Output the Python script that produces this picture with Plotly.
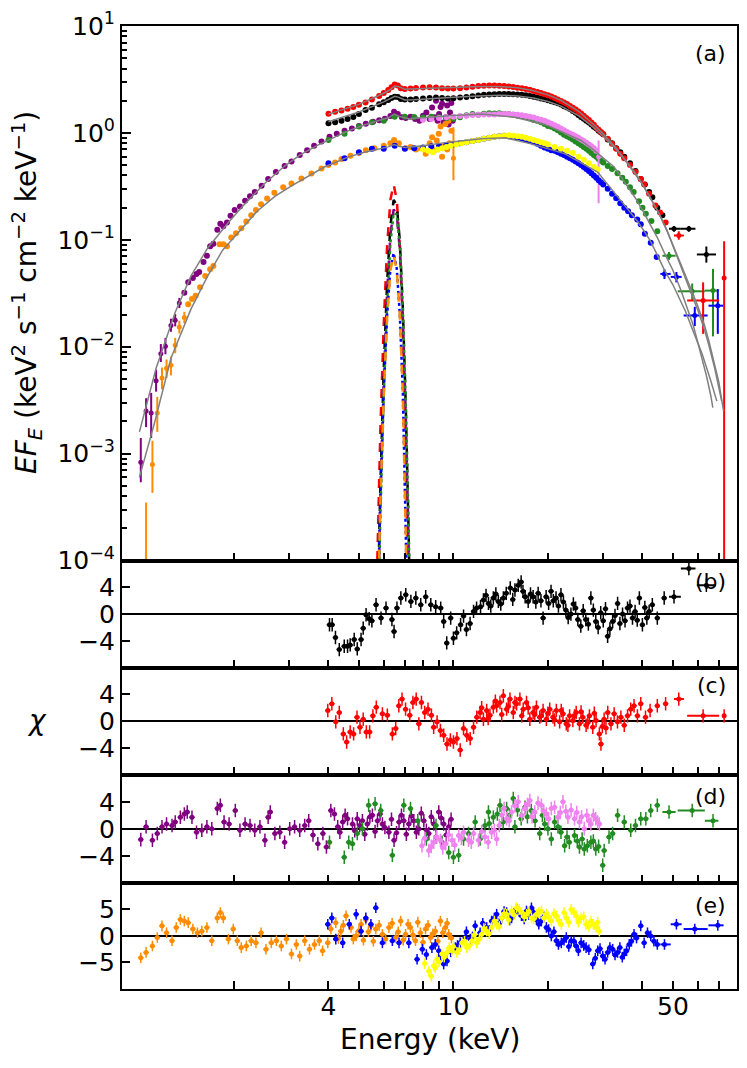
import numpy as np
import plotly.graph_objects as go

# ---------------- spectrum, panel (a) ----------------
# energies in keV, flux in keV^2 s^-1 cm^-2 keV^-1

# black data
BLACK_E = [4.0, 4.2, 4.4, 4.6, 4.8, 5.0, 5.25, 5.5, 5.8, 6.0, 6.2, 6.35, 6.5, 6.65, 6.8, 7.0, 7.3, 7.6, 8.0, 8.4,
           8.8, 9.2, 9.6, 10.0, 10.5, 11.0, 11.5, 12.0, 12.5, 13.0, 13.5, 14.0, 14.5, 15.0, 15.5, 16.0, 16.5, 17.0, 17.5, 18.0,
           18.5, 19.0, 19.5, 20.0, 20.5, 21.0, 21.5, 22.0, 22.5, 23.0, 23.5, 24.0, 24.5, 25.0, 25.5, 26.0, 26.5, 27.0, 27.5, 28.0,
           28.5, 29.0, 29.5, 30.0, 31.0, 32.0, 33.0, 34.0, 35.0, 36.5, 38.0, 39.5, 40.7, 42.0, 43.0, 44.6, 46.3]
BLACK_F = [1.23, 1.26, 1.3, 1.35, 1.41, 1.5, 1.64, 1.72, 1.85, 1.94, 2.03, 2.12, 2.18, 2.17, 2.08, 2.05, 2.05, 2.08, 2.1, 2.12,
           2.14, 2.12, 2.1, 2.11, 2.14, 2.17, 2.2, 2.24, 2.27, 2.29, 2.3, 2.31, 2.31, 2.31, 2.3, 2.29, 2.27, 2.25, 2.22, 2.18,
           2.14, 2.1, 2.06, 2.02, 1.98, 1.94, 1.89, 1.84, 1.78, 1.73, 1.67, 1.6, 1.54, 1.47, 1.41, 1.36, 1.3, 1.25, 1.2, 1.14,
           1.1, 1.05, 1.01, 0.97, 0.87, 0.8, 0.72, 0.66, 0.6, 0.52, 0.44, 0.37, 0.33, 0.28, 0.25, 0.2, 0.17]
BLACK_HI_E = [50.4, 56.2, 63.9]
BLACK_HI_F = [0.127, 0.127, 0.073]
BLACK_HI_XM = [1.8, 3.2, 4.3]
BLACK_HI_XP = [2.6, 2.8, 4.7]
BLACK_HI_YP = [0.008, 0.008, 0.0136]
BLACK_HI_YM = [0.008, 0.008, 0.0118]

# red data
RED_E = [4.0, 4.2, 4.4, 4.6, 4.8, 5.0, 5.25, 5.5, 5.8, 6.0, 6.2, 6.35, 6.5, 6.65, 6.8, 7.0, 7.3, 7.6, 8.0, 8.4,
         8.8, 9.2, 9.6, 10.0, 10.5, 11.0, 11.5, 12.0, 12.5, 13.0, 13.5, 14.0, 14.5, 15.0, 15.5, 16.0, 16.5, 17.0, 17.5, 18.0,
         18.5, 19.0, 19.5, 20.0, 20.5, 21.0, 21.5, 22.0, 22.5, 23.0, 23.5, 24.0, 24.5, 25.0, 25.5, 26.0, 26.5, 27.0, 27.5, 28.0,
         28.5, 29.0, 29.5, 30.0, 31.0, 32.0, 33.0, 34.0, 35.0, 36.5, 38.0, 39.5, 40.5, 42.0, 44.0, 45.5, 47.4]
RED_F = [1.51, 1.58, 1.62, 1.68, 1.75, 1.83, 1.93, 2.05, 2.22, 2.36, 2.52, 2.68, 2.84, 2.78, 2.62, 2.58, 2.6, 2.63, 2.66, 2.67,
         2.66, 2.62, 2.6, 2.6, 2.62, 2.66, 2.7, 2.74, 2.76, 2.77, 2.77, 2.76, 2.75, 2.72, 2.69, 2.65, 2.62, 2.58, 2.53, 2.47,
         2.42, 2.36, 2.3, 2.25, 2.19, 2.12, 2.05, 1.99, 1.92, 1.86, 1.79, 1.72, 1.66, 1.59, 1.52, 1.45, 1.38, 1.32, 1.25, 1.19,
         1.12, 1.07, 1.02, 0.97, 0.88, 0.79, 0.71, 0.64, 0.58, 0.5, 0.43, 0.37, 0.33, 0.27, 0.21, 0.18, 0.145]
RED_HI_E = [52.2, 62.4, 72.8]
RED_HI_F = [0.11, 0.027, 0.044]
RED_HI_XM = [1.8, 6.9, 1.0]
RED_HI_XP = [2.0, 7.8, 1.0]
RED_HI_YP = [0.01, 0.013, 0.053]
RED_HI_YM = [0.01, 0.0138, 0.04399]

# purple data (soft band)
PURPLE_LO_E = [1.01, 1.05, 1.09, 1.13, 1.17, 1.21, 1.26, 1.30, 1.34]
PURPLE_LO_F = [8.3e-4, 2.5e-3, 2.4e-3, 4.8e-3, 8.6e-3, 1.01e-2, 1.58e-2, 1.77e-2, 2.56e-2]
PURPLE_LO_YP = [5.7e-4, 8e-4, 1.3e-3, 1.3e-3, 2.0e-3, 2.0e-3, 2.5e-3, 2.5e-3, 3e-3]
PURPLE_LO_YM = [2.9e-4, 7.3e-4, 1.0e-3, 1.0e-3, 1.4e-3, 1.6e-3, 2.0e-3, 2.2e-3, 2.6e-3]
PURPLE_E = [1.39, 1.43, 1.48, 1.52, 1.55, 1.60, 1.64, 1.68, 1.72, 1.77, 1.81, 1.85, 1.90, 1.95, 2.01, 2.09, 2.17, 2.25, 2.33, 2.45,
            2.57, 2.72, 2.90, 3.05, 3.24, 3.42, 3.6, 3.8, 4.03, 4.25, 4.5, 4.75, 5.0, 5.26, 5.55, 5.8, 6.05, 6.3, 6.47, 6.65,
            6.85, 7.05, 7.3, 7.55, 7.8, 8.0, 8.2, 8.4, 8.55, 8.7, 8.8, 8.9, 9.0, 9.1, 9.2, 9.3, 9.45, 9.55, 9.65, 9.75,
            9.85, 9.95]
PURPLE_F = [0.032, 0.040, 0.044, 0.048, 0.050, 0.062, 0.071, 0.087, 0.092, 0.124, 0.141, 0.134, 0.145, 0.168, 0.19, 0.205, 0.232, 0.255, 0.28, 0.32,
            0.37, 0.43, 0.49, 0.54, 0.62, 0.69, 0.76, 0.83, 0.92, 0.98, 1.05, 1.1, 1.16, 1.22, 1.27, 1.31, 1.36, 1.44, 1.58, 1.5,
            1.4, 1.38, 1.42, 1.35, 1.3, 1.45, 1.55, 1.35, 1.73, 1.4, 2.0, 1.3, 1.5, 1.75, 1.87, 1.25, 1.4, 1.8, 1.2, 1.55,
            1.9, 1.3]

# orange data (soft band)
ORANGE_LO_E = [1.05, 1.10, 1.14, 1.18, 1.22, 1.26, 1.30, 1.34, 1.39]
ORANGE_LO_F = [8e-5, 7.9e-4, 2.4e-3, 5.1e-3, 6.3e-3, 6.7e-3, 1.03e-2, 1.53e-2, 1.88e-2]
ORANGE_LO_YP = [2.7e-4, 5.3e-4, 1.0e-3, 1.3e-3, 1.3e-3, 1.4e-3, 1.8e-3, 2.2e-3, 2.4e-3]
ORANGE_LO_YM = [7.99e-5, 3.6e-4, 8e-4, 1.1e-3, 1.2e-3, 1.3e-3, 1.6e-3, 2.0e-3, 2.2e-3]
ORANGE_E = [1.43, 1.47, 1.51, 1.56, 1.62, 1.68, 1.72, 1.80, 1.85, 1.90, 1.96, 2.03, 2.11, 2.19, 2.27, 2.35, 2.44, 2.55, 2.69, 2.87,
            3.05, 3.28, 3.53, 3.8, 4.0, 4.2, 4.4, 4.7, 5.0, 5.26, 5.6, 6.0, 6.3, 6.47, 6.7, 7.04, 7.3, 7.6, 7.9, 8.16,
            8.4, 8.55, 8.7, 8.85, 8.98, 9.1, 9.2, 9.3, 9.43, 9.55, 9.65, 9.72, 9.85]
ORANGE_F = [0.025, 0.028, 0.030, 0.036, 0.046, 0.053, 0.057, 0.091, 0.091, 0.087, 0.105, 0.115, 0.128, 0.148, 0.17, 0.19, 0.215, 0.243, 0.275, 0.31,
            0.337, 0.375, 0.417, 0.464, 0.5, 0.53, 0.57, 0.61, 0.65, 0.69, 0.72, 0.76, 0.8, 0.86, 0.8, 0.72, 0.74, 0.7, 0.72, 0.64,
            0.8, 0.91, 0.69, 0.85, 0.98, 1.15, 0.6, 0.75, 1.21, 0.7, 1.3, 0.8, 1.05]
ORANGE_10_E = [10.0]
ORANGE_10_F = [0.58]
ORANGE_10_YP = [0.55]
ORANGE_10_YM = [0.22]

# green data
GREEN_E = [4.0, 4.5, 5.0, 5.5, 6.0, 6.5, 7.0, 7.5, 8.0, 8.5, 9.0, 9.5, 10.0, 10.5, 11.0, 11.5, 12.0, 12.5, 13.0, 13.5,
           14.0, 14.5, 15.0, 15.5, 16.0, 16.5, 17.0, 17.5, 18.0, 18.5, 19.0, 19.5, 20.0, 20.5, 21.0, 21.5, 22.0, 22.5, 23.0, 23.5,
           24.0, 24.5, 25.0, 25.5, 26.0, 26.5, 27.0, 27.5, 28.0, 28.5, 29.0, 29.5, 30.0, 31.0, 32.0, 33.3, 34.5, 35.4, 36.5, 37.5,
           39.0, 40.0, 41.0, 42.7, 44.6]
GREEN_F = [0.86, 0.98, 1.15, 1.26, 1.3, 1.42, 1.42, 1.41, 1.39, 1.42, 1.4, 1.38, 1.36, 1.4, 1.46, 1.5, 1.48, 1.51, 1.53, 1.52,
           1.53, 1.5, 1.5, 1.48, 1.45, 1.43, 1.41, 1.37, 1.32, 1.3, 1.26, 1.21, 1.16, 1.14, 1.1, 1.06, 1.01, 0.96, 0.93, 0.9,
           0.87, 0.83, 0.8, 0.77, 0.74, 0.71, 0.68, 0.65, 0.62, 0.6, 0.57, 0.55, 0.53, 0.49, 0.46, 0.42, 0.38, 0.35, 0.31, 0.28,
           0.23, 0.2, 0.175, 0.15, 0.12]
GREEN_HI_E = [48.6, 57.6, 67.1]
GREEN_HI_F = [0.071, 0.033, 0.0335]
GREEN_HI_XM = [2.3, 5.8, 3.9]
GREEN_HI_XP = [2.4, 5.6, 2.7]
GREEN_HI_YP = [0.006, 0.006, 0.02]
GREEN_HI_YM = [0.006, 0.006, 0.021]

# violet data
VIOLET_E = [8.0, 8.5, 9.0, 9.5, 10.0, 10.5, 11.0, 11.5, 12.0, 12.5, 13.0, 13.5, 14.0, 14.5, 15.0, 15.5, 16.0, 16.5, 17.0, 17.5,
            18.0, 18.5, 19.0, 19.5, 20.0, 20.5, 21.0, 21.5, 22.0, 22.5, 23.0, 23.5, 24.0, 24.5, 25.0, 25.5, 26.0, 26.5, 27.0, 27.5,
            28.0, 28.5]
VIOLET_F = [1.33, 1.35, 1.38, 1.4, 1.42, 1.44, 1.45, 1.47, 1.48, 1.49, 1.49, 1.49, 1.5, 1.5, 1.5, 1.49, 1.48, 1.46, 1.44, 1.42,
            1.39, 1.36, 1.33, 1.3, 1.26, 1.22, 1.18, 1.14, 1.1, 1.06, 1.02, 0.99, 0.96, 0.93, 0.9, 0.87, 0.84, 0.81, 0.78, 0.75,
            0.72, 0.68]
VIOLET_END_E = [29.0]
VIOLET_END_F = [0.6]
VIOLET_END_YP = [0.25]
VIOLET_END_YM = [0.38]

# blue data
BLUE_E = [4.0, 4.5, 5.0, 5.5, 6.0, 6.5, 7.0, 7.5, 8.0, 8.5, 9.0, 9.5, 10.0, 10.5, 11.0, 11.5, 12.0, 12.5, 13.0, 13.5,
          14.0, 14.5, 15.0, 15.5, 16.0, 16.5, 17.0, 17.5, 18.0, 18.5, 19.0, 19.5, 20.0, 20.5, 21.0, 21.5, 22.0, 22.5, 23.0, 23.5,
          24.0, 24.5, 25.0, 25.5, 26.0, 26.5, 27.0, 27.5, 28.0, 28.5, 29.0, 29.5, 30.0, 31.0, 32.0, 33.0, 34.0, 35.0, 36.0, 37.0,
          38.5, 39.5, 40.7, 42.5, 44.4]
BLUE_F = [0.52, 0.58, 0.66, 0.71, 0.71, 0.76, 0.71, 0.72, 0.73, 0.75, 0.76, 0.77, 0.78, 0.8, 0.82, 0.84, 0.86, 0.88, 0.9, 0.92,
          0.93, 0.94, 0.93, 0.92, 0.9, 0.89, 0.86, 0.84, 0.82, 0.79, 0.76, 0.73, 0.71, 0.69, 0.68, 0.66, 0.64, 0.62, 0.6, 0.58,
          0.56, 0.54, 0.52, 0.5, 0.48, 0.46, 0.44, 0.42, 0.4, 0.38, 0.36, 0.345, 0.33, 0.3, 0.27, 0.245, 0.22, 0.2, 0.185, 0.17,
          0.155, 0.14, 0.114, 0.094, 0.069]
BLUE_HI_E = [47.0, 51.3, 58.7, 69.5]
BLUE_HI_F = [0.048, 0.045, 0.0196, 0.0242]
BLUE_HI_XM = [1.4, 2.1, 4.6, 4.6]
BLUE_HI_XP = [2.2, 2.0, 5.8, 3.0]
BLUE_HI_YP = [0.005, 0.005, 0.004, 0.0104]
BLUE_HI_YM = [0.005, 0.005, 0.004, 0.011]

# yellow data
YELLOW_E = [8.0, 8.3, 8.6, 8.9, 9.2, 9.5, 9.8, 10.2, 10.6, 11.0, 11.5, 12.0, 12.5, 13.0, 13.5, 14.0, 14.5, 15.0, 15.5, 16.0,
            16.5, 17.0, 17.5, 18.0, 18.5, 19.0, 19.5, 20.0, 21.0, 22.0, 23.0, 24.0, 25.0, 26.0, 27.0, 28.0, 28.8]
YELLOW_F = [0.7, 0.68, 0.66, 0.7, 0.72, 0.74, 0.76, 0.78, 0.8, 0.82, 0.84, 0.86, 0.88, 0.9, 0.92, 0.93, 0.94, 0.95, 0.94, 0.93,
            0.92, 0.9, 0.88, 0.86, 0.84, 0.82, 0.8, 0.78, 0.74, 0.71, 0.68, 0.65, 0.6, 0.56, 0.52, 0.48, 0.455]

# best-fit continuum models (grey)
MODEL_RED_E = [4.0, 5.0, 6.0, 6.3, 6.5, 6.7, 7.0, 7.5, 8.0, 10.0, 12.0, 14.0, 16.0, 18.0, 20.0, 22.0, 25.0, 28.0, 30.0, 33.0,
               35.0, 38.0, 40.0, 42.0, 45.0, 48.0, 50.0, 53.0, 55.0, 58.0, 60.0, 63.0, 65.0, 68.0, 70.0, 72.5]
MODEL_RED_F = [1.5, 1.85, 2.35, 2.55, 2.75, 2.7, 2.56, 2.57, 2.6, 2.66, 2.72, 2.72, 2.64, 2.48, 2.27, 2.02, 1.6, 1.2, 0.98, 0.72,
               0.58, 0.42, 0.33, 0.26, 0.18, 0.12, 0.09, 0.06, 0.045, 0.031, 0.024, 0.016, 0.0115, 0.0068, 0.0047, 0.0025]
MODEL_BLACK_E = [4.0, 5.0, 6.0, 6.3, 6.5, 6.7, 7.0, 7.5, 8.0, 10.0, 12.0, 14.0, 16.0, 18.0, 20.0, 22.0, 25.0, 28.0, 30.0, 33.0,
                 35.0, 38.0, 40.0, 42.0, 45.0, 48.0, 50.0, 53.0, 55.0, 58.0, 60.0, 63.0, 65.0, 68.0, 70.0, 71.5]
MODEL_BLACK_F = [1.27, 1.57, 1.95, 2.1, 2.2, 2.15, 2.03, 2.04, 2.07, 2.15, 2.22, 2.25, 2.22, 2.12, 1.97, 1.78, 1.45, 1.12, 0.93, 0.7,
                 0.57, 0.41, 0.33, 0.26, 0.18, 0.12, 0.088, 0.058, 0.043, 0.029, 0.022, 0.0145, 0.0105, 0.0062, 0.0043, 0.0031]
MODEL_PURPLE_E = [1.0, 1.13, 1.3, 1.46, 1.65, 1.81, 1.92, 2.11, 2.5, 2.9, 3.24, 3.7, 4.12, 4.6, 5.26, 5.7, 6.0, 6.25, 6.47, 6.7,
                  7.2, 8.0, 9.65, 12.3, 15.7, 20.0, 25.5, 28.0, 30.0, 32.5, 35.0, 38.0, 40.0, 42.0, 44.6, 47.0, 50.0, 53.0, 55.0, 58.0,
                  60.0, 62.0, 64.0, 66.0, 67.0]
MODEL_PURPLE_F = [1.6e-3, 6.3e-3, 0.021, 0.046, 0.084, 0.118, 0.145, 0.2, 0.335, 0.49, 0.62, 0.77, 0.9, 1.04, 1.2, 1.29, 1.33, 1.4, 1.5, 1.43,
                  1.36, 1.39, 1.45, 1.5, 1.4, 1.17, 0.85, 0.69, 0.58, 0.48, 0.35, 0.245, 0.19, 0.145, 0.105, 0.075, 0.052, 0.034, 0.025, 0.016,
                  0.011, 0.0078, 0.0053, 0.0035, 0.0027]
MODEL_ORANGE_E = [1.0, 1.12, 1.26, 1.46, 1.65, 1.81, 1.84, 1.92, 2.1, 2.37, 2.7, 3.05, 3.88, 4.66, 5.2, 5.8, 6.2, 6.47, 6.7, 7.04,
                  8.0, 9.65, 12.3, 14.6, 17.7, 22.6, 28.8, 31.0, 35.0, 38.5, 40.7, 42.5, 44.6, 47.0, 50.0, 53.0, 55.0, 58.0, 62.0, 66.0,
                  69.0]
MODEL_ORANGE_F = [6e-4, 2e-3, 7.8e-3, 0.0226, 0.046, 0.075, 0.08, 0.092, 0.125, 0.185, 0.255, 0.32, 0.48, 0.6, 0.66, 0.71, 0.74, 0.78, 0.75, 0.73,
                  0.76, 0.82, 0.88, 0.9, 0.79, 0.64, 0.43, 0.33, 0.215, 0.15, 0.118, 0.096, 0.072, 0.052, 0.038, 0.027, 0.021, 0.014, 0.0085, 0.0048,
                  0.0031]

# Fe K line components
LINE_E = [5.55, 5.7, 5.85, 6.0, 6.15, 6.3, 6.45, 6.6, 6.75, 6.9, 7.05, 7.2, 7.35]
LINE_RED = [2.1e-6, 8.3e-5, 0.0016, 0.0165, 0.088, 0.237, 0.33, 0.237, 0.088, 0.0165, 0.0016, 8.3e-5, 2.1e-6]
LINE_BLACK = [4e-7, 2e-5, 4.8e-4, 0.0062, 0.040, 0.136, 0.236, 0.211, 0.0975, 0.023, 0.0028, 1.8e-4, 5.8e-6]
LINE_PURPLE = [3.2e-7, 1.6e-5, 3.9e-4, 0.005, 0.033, 0.111, 0.193, 0.172, 0.08, 0.019, 0.0023, 1.45e-4, 4.7e-6]
LINE_GREEN = [1.8e-7, 9.3e-6, 2.5e-4, 0.0035, 0.025, 0.093, 0.177, 0.173, 0.087, 0.0225, 0.003, 2.1e-4, 7.3e-6]
LINE_BLUE = [4.8e-7, 1.9e-5, 3.7e-4, 0.0038, 0.02, 0.054, 0.075, 0.054, 0.02, 0.0038, 3.7e-4, 1.9e-5, 4.8e-7]
LINE_ORANGE = [4.6e-7, 1.8e-5, 3.5e-4, 0.0036, 0.019, 0.052, 0.072, 0.052, 0.019, 0.0036, 3.5e-4, 1.8e-5, 4.6e-7]

# ---------------- residuals, panels (b)-(e) ----------------
RES_B_E = [4.03, 4.11, 4.21, 4.33, 4.49, 4.6, 4.69, 4.83, 4.94, 5.08, 5.16, 5.27, 5.39, 5.5, 5.67, 5.88, 6.1, 6.37, 6.47, 6.61,
           6.8, 7.05, 7.32, 7.59, 7.87, 8.16, 8.47, 8.78, 9.11, 9.31, 9.52, 9.8, 10.0, 10.24, 10.54, 10.77, 11.0, 11.3, 11.59, 11.85,
           12.2, 12.46, 12.93, 13.4, 13.9, 14.42, 14.73, 15.17, 15.7, 16.08, 16.43, 16.92, 17.3, 17.94, 18.61, 19.3, 19.73, 20.46, 21.22, 22.0,
           22.8, 23.67, 24.5, 25.45, 26.4, 27.4, 28.4, 29.45, 30.98, 32.14, 33.33, 34.56, 35.85, 37.18, 39.1, 39.98, 42.0, 43.0, 44.6, 46.9,
           12.7, 13.15, 13.65, 14.15, 15.45, 16.65, 17.6, 18.3, 19.0, 20.1, 20.8, 21.6, 22.4, 23.2, 24.1, 24.9, 25.9, 26.9, 27.9, 28.9,
           30.0, 30.5, 31.5, 32.7, 33.9, 35.2, 36.5, 37.9, 38.5, 40.7, 41.3]
RES_B = [-1.6, -1.6, -3.5, -5.3, -4.8, -4.8, -4.6, -3.8, -5.2, -3.8, -2.1, -0.1, -0.7, -1.0, 1.4, -0.6, 0.9, -0.8, -2.6, 0.9,
         2.4, 2.9, 1.9, 2.4, 1.4, 2.6, 1.4, 1.1, 0.9, -1.1, -4.3, -0.6, -3.6, -2.8, -1.6, -0.3, -2.3, -1.4, 0.4, 0.9,
         1.1, 2.1, 1.6, 2.4, 1.9, 2.4, 3.1, 3.9, 3.6, 4.3, 4.8, 2.6, 1.9, 2.6, 3.1, -0.6, 2.6, 3.4, 2.4, 2.9,
         0.6, 0.0, 0.9, -1.8, -0.8, 2.4, -1.1, 0.2, -3.3, -1.1, 1.6, 0.0, 0.9, -0.6, 2.4, -1.6, 0.4, 1.4, -0.6, 2.4,
         2.8, 1.2, 3.0, 1.5, 2.2, 3.4, 3.0, 1.8, 2.0, 1.6, 2.0, 1.2, 1.8, -0.5, 1.5, -0.8, 0.5, -1.5, 0.6, -2.0,
         -1.0, 0.8, -2.2, -0.2, -1.4, -1.0, 1.2, 0.4, -0.9, 1.0, -0.6]
RES_B_HI = [2.6, 6.8, 4.3]

RES_C_E = [3.98, 4.1, 4.22, 4.33, 4.46, 4.57, 4.69, 4.81, 4.93, 5.04, 5.16, 5.28, 5.41, 5.54, 5.68, 5.94, 6.16, 6.39, 6.55, 6.7,
           6.86, 7.04, 7.26, 7.43, 7.61, 7.76, 7.91, 8.1, 8.3, 8.51, 8.65, 8.87, 9.09, 9.31, 9.54, 9.78, 10.0, 10.26, 10.51, 10.77,
           11.03, 11.31, 11.59, 11.87, 12.16, 12.46, 12.76, 13.07, 13.4, 13.73, 14.07, 14.42, 14.77, 15.14, 15.51, 15.89, 16.28, 16.68, 17.09, 17.51,
           17.94, 18.38, 18.83, 19.3, 19.77, 20.26, 20.76, 21.27, 21.79, 22.33, 22.88, 23.44, 24.01, 24.6, 25.2, 25.82, 26.46, 27.11, 27.78, 28.46,
           29.16, 29.5, 30.2, 31.0, 31.75, 32.5, 33.3, 34.15, 35.0, 35.85, 36.7, 37.6, 38.55, 39.5, 40.9, 42.3, 44.6, 47.4,
           12.3, 12.9, 13.6, 14.25, 14.95, 15.7, 16.5, 17.3, 18.15, 19.05, 20.0, 21.0, 22.05, 23.15, 24.3, 25.5, 26.8, 28.1, 29.8, 30.6]
RES_C = [1.6, 2.6, -0.1, 1.3, -1.9, -3.1, -1.6, -1.9, 0.6, -0.9, 0.3, -1.6, -1.6, 0.8, 2.1, 1.1, 0.9, -1.9, -1.1, 2.3,
         3.3, 1.8, 0.9, 2.8, 3.3, -0.4, 2.8, 1.3, 1.8, 0.9, -0.9, -0.1, -1.4, -2.1, -3.4, -2.8, -3.1, -2.6, -4.3, -1.1,
         -2.1, -2.6, -0.9, 0.6, 1.3, 0.3, 1.6, 0.9, 2.1, 2.3, 2.8, 3.8, 1.8, 3.3, 1.3, 2.6, 3.3, 1.8, 2.8, 0.3,
         1.3, 2.1, 0.6, 1.6, 0.3, 1.8, 0.6, 1.6, -0.1, 1.1, -0.4, 0.8, 0.1, 1.3, -0.4, 0.6, -0.6, 0.8, -0.9, 0.1,
         -1.9, -3.4, 0.3, 1.3, -0.4, 1.1, -0.1, 0.6, -0.6, 0.8, 1.8, 2.3, 0.8, 2.6, 0.6, 1.6, 2.3, 2.6,
         2.0, 0.4, 3.0, 1.0, 2.2, 2.8, 0.8, 2.0, 1.0, 0.8, 1.2, 0.2, 1.6, -0.6, 0.8, 1.4, -0.2, 1.2, -0.8, -1.0]
RES_C_HI = [3.3, 0.8, 0.8]

RES_D_PURPLE_E = [1.01, 1.05, 1.10, 1.14, 1.18, 1.22, 1.27, 1.30, 1.35, 1.39, 1.42, 1.47, 1.52, 1.58, 1.64, 1.70, 1.77, 1.81, 1.86, 1.93,
                  2.02, 2.09, 2.17, 2.25, 2.33, 2.42, 2.51, 2.57, 2.61, 2.70, 2.80, 2.90, 3.01, 3.12, 3.24, 3.36, 3.46, 3.57, 3.70, 3.84,
                  3.94, 4.07, 4.18, 4.28, 4.44, 4.6, 4.77, 4.94, 5.13, 5.32, 5.52, 5.73, 5.94, 6.23, 6.47, 6.71, 6.95, 7.21, 7.48, 7.76,
                  8.05, 8.35, 8.66, 8.98, 9.31, 9.66,
                  4.35, 4.52, 4.85, 5.03, 5.22, 5.42, 5.63, 5.84, 6.05, 6.35, 6.59, 6.83, 7.08, 7.34, 7.62, 7.9, 8.2, 8.5, 8.82, 9.14,
                  9.48, 9.83]
RES_D_PURPLE = [-1.6, 0.3, -1.7, -0.7, 0.3, 0.7, 0.5, 1.0, 1.7, 2.2, 2.5, 1.7, -0.5, -0.2, 0.3, 0.0, 3.0, 3.5, 1.0, 0.7,
                2.7, -0.2, 0.7, 0.5, -0.2, 0.3, -1.7, 1.7, 2.5, -0.7, -0.5, -2.0, 0.0, 0.3, -0.2, 0.5, 1.2, -0.9, -2.2, -0.7,
                -2.7, 2.7, 2.2, 0.3, 1.0, 1.5, 0.7, 1.5, 1.2, 0.7, 2.0, 1.2, 0.7, -0.5, -1.7, 1.0, 1.2, 0.7, 1.2, 0.0,
                1.2, -0.7, 0.7, 2.5, 0.7, 0.3,
                -0.5, 2.0, -0.3, 0.5, -0.8, 1.8, -0.4, 2.2, 0.2, 1.4, -0.6, 2.0, -0.8, 1.9, -0.5, 2.3, -0.2, 1.8, -1.2, 1.6,
                -0.9, 1.4]
RES_D_GREEN_E = [4.03, 4.49, 4.64, 4.77, 4.94, 5.13, 5.37, 5.63, 5.87, 6.39, 6.95, 7.3, 9.66, 10.0, 10.39, 10.77, 11.17, 11.73, 12.16, 12.6,
                 12.93, 13.4, 14.07, 14.77, 15.51, 15.7, 16.43, 17.7, 18.83, 19.53, 20.5, 21.53, 22.6, 23.4, 24.3, 25.2, 26.1, 27.4, 28.4, 29.88,
                 30.2, 31.3, 32.14, 33.33, 35.0, 36.7, 38.0, 39.5, 41.0, 42.5, 44.6, 7.7, 8.2, 8.8, 9.2,
                 13.0, 13.8, 14.4, 15.1, 16.0, 16.9, 17.2, 18.2, 19.2, 20.0, 21.0, 22.0, 23.0, 24.8, 25.7, 26.7, 27.9, 29.0]
RES_D_GREEN = [-2.0, -4.2, -2.0, -2.2, -0.7, 0.0, 3.5, 3.7, 2.7, -3.9, 3.5, 3.0, -3.5, -4.2, -3.9, -1.5, -0.7, 1.0, -1.5, 0.5,
               2.5, 1.7, 3.5, 3.0, 4.5, 0.3, 1.5, 2.7, -0.7, 0.7, -1.5, 0.3, -2.5, -2.0, -1.0, -2.7, -3.0, -2.0, -3.0, -5.4,
               -3.2, -1.2, -0.7, 2.0, 1.0, -0.2, 0.5, 1.5, 1.5, 2.7, 3.5, 1.2, -1.5, 0.5, -2.0,
               0.8, 2.2, 1.0, 2.0, 2.8, 3.2, 1.8, 1.2, 2.0, 0.0, 1.0, -0.5, -1.2, -1.8, -1.5, -2.5, -1.8, -2.6]
RES_D_GREEN_HI = [2.5, 2.7, 1.2]
RES_D_VIOLET_E = [7.94, 8.35, 8.66, 9.09, 9.45, 9.9, 10.39, 10.77, 11.17, 11.59, 12.02, 12.6, 13.23, 13.73, 14.25, 14.77, 15.32, 16.08, 16.87, 17.51,
                  18.15, 19.06, 19.77, 20.5, 21.53, 22.33, 23.15, 24.3, 25.2, 26.1, 27.4, 28.4, 29.16,
                  8.1, 8.5, 8.85, 9.25, 9.65, 10.1, 10.6, 11.4, 12.3, 12.9, 13.5, 14.0, 14.5, 15.05, 15.7, 16.5, 17.2, 17.8, 18.6, 19.4,
                  20.1, 21.0, 21.9, 22.8, 23.7, 24.7, 25.6, 26.6, 27.0, 27.9, 28.8]
RES_D_VIOLET = [-2.5, -3.2, -2.0, -1.7, -2.2, -1.7, -1.0, -0.5, -1.7, -0.7, -1.7, -1.2, -0.5, -1.5, 2.0, 1.5, 2.5, 4.0, 3.0, 4.2,
                2.5, 3.5, 2.2, 3.0, 1.7, 4.0, 1.7, 1.5, 1.0, 0.0, 0.7, 1.5, 0.7,
                -1.4, -2.6, -1.2, -2.8, -0.9, -2.4, -1.4, -2.0, -0.4, -2.0, -0.2, 0.5, 3.0, 1.2, 3.4, 2.0, 3.6, 1.8, 3.8, 2.6,
                1.5, 3.2, 2.4, 2.6, 2.8, 2.4, 1.8, 2.0, 1.2, 2.0, 1.0]

RES_E_ORANGE_E = [1.01, 1.05, 1.10, 1.14, 1.18, 1.22, 1.27, 1.31, 1.35, 1.39, 1.43, 1.48, 1.53, 1.58, 1.64, 1.70, 1.77, 1.81, 1.85, 1.92,
                  1.99, 2.05, 2.11, 2.19, 2.27, 2.35, 2.44, 2.53, 2.63, 2.73, 2.83, 2.94, 3.05, 3.16, 3.24, 3.36, 3.48, 3.61, 3.74, 3.83,
                  3.98, 4.07, 4.22, 4.38, 4.55, 4.72, 4.9, 5.08, 5.26, 5.46, 5.66, 5.94, 6.23, 6.55, 6.79, 7.04, 7.3, 7.57, 7.85, 8.15,
                  8.45, 8.76, 9.09, 9.43, 9.66,
                  4.3, 4.46, 4.8, 5.0, 5.17, 5.36, 5.56, 5.8, 6.08, 6.38, 6.67, 6.92, 7.17, 7.43, 7.7, 8.0, 8.3, 8.6, 8.92, 9.25,
                  9.55, 9.85]
RES_E_ORANGE = [-4.1, -3.1, -1.9, -0.3, 1.9, 0.6, -0.9, 1.6, 3.1, 2.8, 2.5, 1.3, 0.6, 0.9, 1.6, -0.9, 3.4, 4.4, 3.4, -0.6,
                1.3, -0.9, -2.2, -1.9, -0.9, -1.3, 0.6, -2.5, -1.3, -0.9, -1.9, -0.6, -3.4, -1.6, -3.8, -0.9, -2.5, -1.6, -0.9, -2.8,
                -1.3, 1.3, 2.5, 0.9, 3.8, 1.6, 0.0, 2.2, 3.1, 1.9, 1.3, 0.3, 1.6, -0.3, 2.8, 0.3, 1.6, -0.9, 0.6, 1.3,
                -0.3, 0.9, 2.8, 1.6, 0.3,
                -0.5, 2.0, -0.6, 1.0, -0.8, 0.8, -1.0, 2.0, -0.6, 2.4, 0.8, -0.8, 2.2, 0.2, 2.6, -1.2, 2.0, 0.4, -1.0, 0.6,
                2.4, -0.4]
RES_E_BLUE_E = [3.98, 4.1, 4.22, 4.44, 4.66, 4.9, 5.08, 5.26, 5.46, 5.66, 5.94, 6.39, 6.71, 7.21, 7.66, 7.96, 8.54, 8.98, 9.31, 9.54,
                10.14, 10.51, 10.9, 11.31, 11.73, 12.16, 12.76, 13.23, 13.73, 14.25, 14.77, 15.32, 15.89, 16.47, 17.09, 17.72, 18.38, 19.06, 19.77, 20.5,
                21.27, 22.06, 22.88, 23.72, 24.6, 25.5, 26.46, 27.78, 28.81, 29.88, 30.98, 32.14, 33.33, 35.0, 36.3, 37.6, 39.5, 40.5, 42.5, 44.6,
                8.2, 8.75, 9.1, 9.8, 10.3, 11.0, 11.5, 12.4, 13.0, 13.5, 14.0, 14.5, 15.1, 15.6, 16.2, 16.8, 17.4, 18.0, 18.7, 19.4,
                20.1, 20.9, 21.6, 22.5, 23.3, 24.2, 25.0, 26.0, 27.0, 28.3, 29.3, 30.4, 31.5, 32.7, 33.9, 34.5, 35.6, 36.9, 38.3, 41.5,
                43.5]
RES_E_BLUE = [2.2, 3.4, -0.6, -1.3, 2.2, 4.1, 0.9, 3.4, 2.2, 5.3, -1.3, -0.9, -1.3, -1.3, -4.4, -2.5, -2.2, -2.8, -5.3, -4.7,
              -2.2, -1.3, -0.3, -0.6, 1.9, 0.6, 1.6, 2.8, 4.1, 3.4, 4.4, 3.4, 5.0, 3.8, 4.7, 5.3, 3.1, 2.8, 1.6, 0.0,
              -0.9, -1.3, -0.3, -0.9, -1.9, -1.3, -2.2, -5.3, -2.8, -3.8, -3.1, -2.5, -3.1, -3.4, -1.6, 0.3, 1.9, -1.3, 0.0, -1.6,
              -3.5, -1.6, -3.8, -3.0, -1.8, 0.8, -0.2, 2.4, 1.0, 3.4, 2.4, 4.6, 3.0, 4.2, 4.6, 3.2, 4.0, 4.4, 2.2, 3.6,
              1.2, 0.8, -1.6, -0.8, -2.0, -1.0, -2.8, -1.8, -2.6, -4.2, -2.4, -4.4, -2.2, -3.6, -2.2, -4.0, -2.8, -1.0, -0.4, 0.6,
              -1.0]
RES_E_BLUE_HI = [-1.6, 2.2, 1.3, 2.0]
RES_E_YELLOW_E = [8.35, 8.66, 8.87, 9.19, 9.54, 9.89, 10.26, 10.64, 11.03, 11.45, 11.87, 12.3, 12.76, 13.23, 13.73, 14.25, 14.77, 15.32, 15.89, 16.47,
                  17.09, 17.72, 18.38, 19.06, 19.77, 20.5, 21.27, 22.06, 22.88, 23.72, 24.6, 25.5, 26.46, 27.44, 28.46, 29.16,
                  8.1, 8.5, 8.75, 9.0, 9.35, 9.7, 10.0, 10.45, 10.85, 11.25, 11.65, 12.1, 12.5, 13.0, 13.5, 14.0, 14.5, 15.0, 15.6, 16.2,
                  16.8, 17.4, 18.0, 18.7, 19.4, 20.1, 20.9, 21.7, 22.5, 23.3, 24.2, 25.0, 26.0, 27.0, 27.9, 28.8]
RES_E_YELLOW = [-6.6, -5.6, -4.4, -3.4, -3.1, -2.8, -3.1, -1.3, -2.2, -0.9, -1.3, 0.3, 0.9, 1.6, 2.2, 3.4, 4.1, 4.7, 5.3, 4.4,
                4.1, 3.4, 4.1, 4.7, 4.1, 2.8, 3.8, 2.2, 3.4, 5.0, 3.8, 3.4, 2.2, 2.8, 1.6, 0.9,
                -5.2, -7.6, -6.0, -4.9, -4.0, -2.2, -2.0, -2.6, -1.0, -1.8, 0.2, -0.6, 1.4, 0.4, 2.8, 1.8, 4.2, 3.0, 4.0, 5.0,
                3.6, 4.6, 3.2, 4.4, 3.4, 3.6, 4.2, 2.8, 4.4, 2.6, 4.4, 2.6, 3.6, 1.8, 2.2, 2.6]

# axis ticks
X_TICKS = [4, 10, 50]
X_MINOR = [2, 3, 5, 6, 7, 8, 9, 20, 30, 40, 60, 70, 80]
Y_TICKS = [1e-4, 1e-3, 1e-2, 1e-1, 1e0, 1e1]
Y_TICKTEXT = ['10<sup>\u22124</sup>', '10<sup>\u22123</sup>', '10<sup>\u22122</sup>',
              '10<sup>\u22121</sup>', '10<sup>0</sup>', '10<sup>1</sup>']
Y_MINOR = [m * 10.0 ** p for p in range(-4, 1) for m in range(2, 10)]

BLACK = 'black'
RED = 'red'
PURPLE = 'purple'
ORANGE = 'darkorange'
GREEN = 'forestgreen'
VIOLET = 'violet'
BLUE = 'blue'
YELLOW = 'yellow'
GREY = 'grey'

fig = go.Figure()


def add_dense(e, f, color, xa='x', ya='y', size=6):
    fig.add_trace(go.Scatter(x=e, y=f, mode='markers', xaxis=xa, yaxis=ya,
                             marker=dict(color=color, size=size, line=dict(width=0))))


def add_err(e, f, color, yp, ym, xp=None, xm=None, xa='x', ya='y', size=5):
    ex = None
    if xp is not None:
        ex = dict(type='data', array=xp, arrayminus=xm, symmetric=False,
                  color=color, thickness=2, width=0)
    fig.add_trace(go.Scatter(x=e, y=f, mode='markers', xaxis=xa, yaxis=ya,
                             marker=dict(color=color, size=size, line=dict(width=0)),
                             error_y=dict(type='data', array=yp, arrayminus=ym, symmetric=False,
                                          color=color, thickness=2, width=0),
                             error_x=ex))


def add_res(e, r, color, ya, xp=None, xm=None):
    if xp is None:
        ex = dict(type='percent', value=2, color=color, thickness=1.5, width=0)
    else:
        ex = dict(type='data', array=xp, arrayminus=xm, symmetric=False,
                  color=color, thickness=2, width=0)
    fig.add_trace(go.Scatter(x=e, y=r, mode='markers', xaxis='x' + ya[1:], yaxis=ya,
                             marker=dict(color=color, size=5, line=dict(width=0)),
                             error_y=dict(type='constant', value=1, color=color, thickness=1.5, width=0),
                             error_x=ex))


def add_line(e, f, color, dash='solid', width=1.5):
    fig.add_trace(go.Scatter(x=e, y=f, mode='lines', xaxis='x', yaxis='y',
                             line=dict(color=color, width=width, dash=dash)))


# panel (a): data
add_err(PURPLE_LO_E, PURPLE_LO_F, PURPLE, PURPLE_LO_YP, PURPLE_LO_YM)
add_dense(PURPLE_E, PURPLE_F, PURPLE)
add_err(ORANGE_LO_E, ORANGE_LO_F, ORANGE, ORANGE_LO_YP, ORANGE_LO_YM)
add_dense(ORANGE_E, ORANGE_F, ORANGE)
add_err(ORANGE_10_E, ORANGE_10_F, ORANGE, ORANGE_10_YP, ORANGE_10_YM)
add_dense(GREEN_E, GREEN_F, GREEN)
add_err(GREEN_HI_E, GREEN_HI_F, GREEN, GREEN_HI_YP, GREEN_HI_YM, GREEN_HI_XP, GREEN_HI_XM)
add_dense(VIOLET_E, VIOLET_F, VIOLET)
add_err(VIOLET_END_E, VIOLET_END_F, VIOLET, VIOLET_END_YP, VIOLET_END_YM)
add_dense(BLUE_E, BLUE_F, BLUE)
add_err(BLUE_HI_E, BLUE_HI_F, BLUE, BLUE_HI_YP, BLUE_HI_YM, BLUE_HI_XP, BLUE_HI_XM)
add_dense(YELLOW_E, YELLOW_F, YELLOW)
add_dense(BLACK_E, BLACK_F, BLACK)
add_err(BLACK_HI_E, BLACK_HI_F, BLACK, BLACK_HI_YP, BLACK_HI_YM, BLACK_HI_XP, BLACK_HI_XM)
add_dense(RED_E, RED_F, RED)
add_err(RED_HI_E, RED_HI_F, RED, RED_HI_YP, RED_HI_YM, RED_HI_XP, RED_HI_XM)

# panel (a): models
add_line(MODEL_RED_E, MODEL_RED_F, GREY)
add_line(MODEL_BLACK_E, MODEL_BLACK_F, GREY)
add_line(MODEL_PURPLE_E, MODEL_PURPLE_F, GREY)
add_line(MODEL_ORANGE_E, MODEL_ORANGE_F, GREY)

# panel (a): line components
add_line(LINE_E, LINE_RED, RED, 'dash', 2.5)
add_line(LINE_E, LINE_BLACK, BLACK, 'dash', 2.5)
add_line(LINE_E, LINE_PURPLE, PURPLE, 'dash', 2.5)
add_line(LINE_E, LINE_GREEN, GREEN, 'dot', 2.5)
add_line(LINE_E, LINE_BLUE, BLUE, 'dot', 2.5)
add_line(LINE_E, LINE_ORANGE, ORANGE, 'dash', 2.5)

# residual panels
add_res(RES_B_E, RES_B, BLACK, 'y2')
add_res(BLACK_HI_E, RES_B_HI, BLACK, 'y2', BLACK_HI_XP, BLACK_HI_XM)
add_res(RES_C_E, RES_C, RED, 'y3')
add_res(RED_HI_E, RES_C_HI, RED, 'y3', RED_HI_XP, RED_HI_XM)
add_res(RES_D_PURPLE_E, RES_D_PURPLE, PURPLE, 'y4')
add_res(RES_D_GREEN_E, RES_D_GREEN, GREEN, 'y4')
add_res(GREEN_HI_E, RES_D_GREEN_HI, GREEN, 'y4', GREEN_HI_XP, GREEN_HI_XM)
add_res(RES_D_VIOLET_E, RES_D_VIOLET, VIOLET, 'y4')
add_res(RES_E_ORANGE_E, RES_E_ORANGE, ORANGE, 'y5')
add_res(RES_E_BLUE_E, RES_E_BLUE, BLUE, 'y5')
add_res(BLUE_HI_E, RES_E_BLUE_HI, BLUE, 'y5', BLUE_HI_XP, BLUE_HI_XM)
add_res(RES_E_YELLOW_E, RES_E_YELLOW, YELLOW, 'y5')

# ---------------- layout ----------------
FONT = 'DejaVu Sans'
tick_font = dict(family=FONT, size=25, color='black')
domains = [[0.4449, 1.0], [0.3337, 0.4449], [0.2225, 0.3337], [0.1102, 0.2225], [0.0, 0.1102]]


def x_axis(n):
    ax = dict(type='log', range=[np.log10(0.88), np.log10(80)], domain=[0, 1],
              anchor='y' if n == 1 else 'y%d' % n,
              showline=True, mirror=True, linecolor='black', linewidth=2,
              ticks='inside', ticklen=8, tickwidth=1.5, tickcolor='black',
              tickmode='array', tickvals=X_TICKS, ticktext=[str(v) for v in X_TICKS],
              minor=dict(tickmode='array', tickvals=X_MINOR, ticks='inside', ticklen=8,
                         tickwidth=1.5, tickcolor='black', showgrid=False),
              showgrid=False, zeroline=False, tickfont=tick_font,
              ticklabelstandoff=-6,
              showticklabels=(n == 5))
    if n > 1:
        ax['matches'] = 'x'
    return ax


def res_axis(n, lim, ticks):
    return dict(range=[-lim, lim], domain=domains[n - 1], anchor='x%d' % n,
                showline=True, mirror=True, linecolor='black', linewidth=2,
                ticks='inside', ticklen=8, tickwidth=1.5, tickcolor='black',
                tickmode='array', tickvals=ticks, showgrid=False,
                zeroline=True, zerolinecolor='black', zerolinewidth=1.5,
                tickfont=tick_font)


layout = dict(
    width=747, height=1068,
    margin=dict(l=122, r=8, t=18, b=79),
    plot_bgcolor='white', paper_bgcolor='white',
    showlegend=False, hovermode=False,
    xaxis=x_axis(1),
    yaxis=dict(type='log', range=[-4, 1], domain=domains[0], anchor='x',
               showline=True, mirror=True, linecolor='black', linewidth=2,
               ticks='inside', ticklen=9, tickwidth=1.5, tickcolor='black',
               tickmode='array', tickvals=Y_TICKS, ticktext=Y_TICKTEXT,
               minor=dict(tickmode='array', tickvals=Y_MINOR, ticks='inside', ticklen=5,
                          tickwidth=1.5, tickcolor='black', showgrid=False),
               showgrid=False, zeroline=False, tickfont=tick_font,
               ticklabeloverflow='allow'),
)
for n in range(2, 6):
    layout['xaxis%d' % n] = x_axis(n)
layout['yaxis2'] = res_axis(2, 8, [-4, 0, 4])
layout['yaxis3'] = res_axis(3, 8, [-4, 0, 4])
layout['yaxis4'] = res_axis(4, 8, [-4, 0, 4])
layout['yaxis5'] = res_axis(5, 10, [-5, 0, 5])
fig.update_layout(**layout)

label_font = dict(family=FONT, size=22, color='black')
for text, y in [('(a)', 0.971), ('(b)', 0.4233), ('(c)', 0.3151), ('(d)', 0.1998), ('(e)', 0.0865)]:
    fig.add_annotation(text=text, xref='paper', yref='paper', x=0.985, y=y,
                       xanchor='right', yanchor='middle', showarrow=False, font=label_font)

title_font = dict(family=FONT, size=28, color='black')
fig.add_annotation(text='<i>EF</i><sub><i>E</i></sub> (keV<sup>2</sup> s<sup>\u22121</sup> cm<sup>\u22122</sup> keV<sup>\u22121</sup>)',
                   xref='paper', yref='paper', x=-0.154, y=0.723, textangle=-90,
                   xanchor='center', yanchor='middle', showarrow=False, font=title_font)
fig.add_annotation(text='<i>\u03c7</i>', xref='paper', yref='paper', x=-0.138, y=0.279,
                   xanchor='center', yanchor='middle', showarrow=False, font=title_font)
fig.add_annotation(text='Energy (keV)', xref='paper', yref='paper', x=0.5, y=-0.0525,
                   xanchor='center', yanchor='middle', showarrow=False, font=title_font)

# drop the browser's default 8 px body margin so the figure fills the window
fig.write_html('out.html', config={'displayModeBar': False},
               post_script="document.body.style.margin='0';")
